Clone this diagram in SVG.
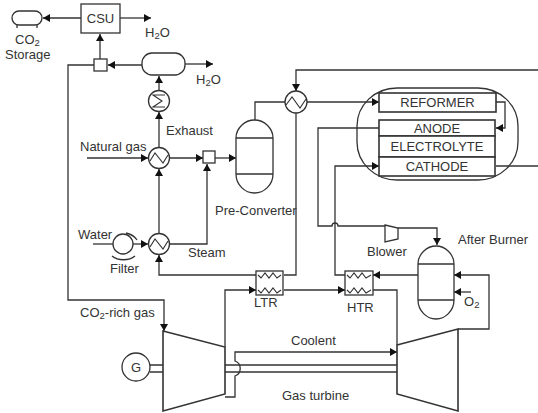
<svg xmlns="http://www.w3.org/2000/svg" width="538" height="413" viewBox="0 0 538 413">
<style>
text{font-family:"Liberation Sans",Arial,sans-serif;font-size:13px;fill:#333}
.b{font-size:9.500px}
.l{fill:none;stroke:#333;stroke-width:1.300}
.s{fill:#fff;stroke:#333;stroke-width:1.300}
.t{fill:#fff;stroke:#333;stroke-width:1.600}
.z{fill:none;stroke:#333;stroke-width:1.100}
</style>
<defs>
<marker id="a" markerUnits="userSpaceOnUse" markerWidth="8" markerHeight="8" refX="7" refY="4" orient="auto"><path d="M0 0L7 4L0 8Z" fill="#111"/></marker>
</defs>
<g id="connectors" class="l">
<path class="l" marker-end="url(#a)" d="M81 18H43"/>
<path class="l" marker-end="url(#a)" d="M120 18H151"/>
<path class="l" marker-end="url(#a)" d="M100 59V34"/>
<path class="l" marker-end="url(#a)" d="M142 65H108"/>
<path class="l" marker-end="url(#a)" d="M185 64H213"/>
<path class="l" marker-end="url(#a)" d="M159 91V76"/>
<path class="l" marker-end="url(#a)" d="M159 147V112"/>
<path class="l" marker-end="url(#a)" d="M159 233V169"/>
<path class="l" marker-end="url(#a)" d="M94 65H68V300H164V331"/>
<path class="l" marker-end="url(#a)" d="M87 158H148"/>
<path class="l" marker-end="url(#a)" d="M170 158H203"/>
<path class="l" marker-end="url(#a)" d="M215 158H236"/>
<path class="l" marker-end="url(#a)" d="M170 244H207V164"/>
<path class="l" d="M93 244H113"/>
<path class="l" marker-end="url(#a)" d="M133 244H148"/>
<path class="l" marker-end="url(#a)" d="M256 275H159V255"/>
<path class="l" d="M255 120V102H285"/>
<path class="l" marker-end="url(#a)" d="M307 102H379"/>
<path class="l" marker-end="url(#a)" d="M538 70H296V91"/>
<path class="l" d="M296 113V275H284"/>
<path class="l" marker-end="url(#a)" d="M496 102H505V128H496"/>
<path class="l" d="M379 128H318V226H332A3 3 0 0 1 338 226H385"/>
<path class="l" marker-end="url(#a)" d="M345 275H335V166H379"/>
<path class="l" d="M496 166H538"/>
<path class="l" marker-end="url(#a)" d="M398 228H437V245"/>
<path class="l" marker-end="url(#a)" d="M418 275H373"/>
<path class="l" marker-end="url(#a)" d="M458 329H489V275H454"/>
<path class="l" marker-end="url(#a)" d="M471 292H454"/>
<path class="l" marker-end="url(#a)" d="M225 347V290H256"/>
<path class="l" marker-end="url(#a)" d="M284 290H345"/>
<path class="l" d="M373 290H397V345"/>
<path class="l" marker-end="url(#a)" d="M225 397H235V376A8 8 0 0 0 235 361V352H397"/>
<path class="t" style="fill:none" d="M150 365H163M150 372H163M225 365H397M225 372H397"/>
</g>
<g id="storage"><rect class="s" x="12" y="11" width="30" height="14" rx="7"/><path class="l" d="M17 25V28M37 25V28"/><text x="15" y="44">CO<tspan class="b" dy="2">2</tspan></text><text x="5" y="59">Storage</text></g>
<g id="csu"><rect class="s" x="81" y="4" width="39" height="29"/><text x="100.500" y="23" text-anchor="middle">CSU</text></g>
<text x="145" y="37">H<tspan class="b" dy="2">2</tspan><tspan dy="-2">O</tspan></text>
<g id="mixer1"><rect class="s" x="94" y="59" width="13" height="12"/></g>
<g id="separator"><rect class="s" x="142" y="53" width="43" height="22" rx="10"/></g>
<text x="196" y="84">H<tspan class="b" dy="2">2</tspan><tspan dy="-2">O</tspan></text>
<g id="cooler"><circle class="s" cx="159" cy="101" r="10.500"/><path class="z" d="M165 95H153L162 101L153 107H165"/></g>
<text x="166" y="135">Exhaust</text>
<g id="hx-natural-gas"><circle class="s" cx="159" cy="158" r="10.500"/><path class="z" d="M150 161L155 153L163 163L168 155"/></g>
<text x="80" y="151">Natural gas</text>
<g id="mixer2"><rect class="s" x="203" y="151" width="12" height="12"/></g>
<g id="pre-converter"><path class="s" d="M236 138C236 128 245 120 254.500 120C264 120 273 128 273 138V174C273 185 264 193 254.500 193C245 193 236 185 236 174Z"/><path class="l" d="M236 138H273M236 174H273"/><text x="215" y="215">Pre-Converter</text></g>
<g id="hx-water"><circle class="s" cx="159" cy="244" r="10.500"/><path class="z" d="M150 247L155 239L163 249L168 241"/></g>
<g id="filter"><circle class="s" cx="123" cy="244" r="10"/><path class="l" d="M126 233C131 234 135 237 137 240M112 256C118 261 129 261 135 256"/><text x="78" y="239">Water</text><text x="110" y="273">Filter</text></g>
<text x="188" y="257">Steam</text>
<g id="hx-fuel"><circle class="s" cx="296" cy="102" r="11"/><path class="z" d="M286 105L292 97L300 108L306 99"/></g>
<g id="fuel-cell"><rect class="l" x="357" y="88" width="161" height="92" rx="40" ry="38"/>
<rect class="t" x="379" y="93" width="117" height="19"/><text x="437.500" y="107" text-anchor="middle">REFORMER</text>
<rect class="t" x="379" y="120" width="116" height="16"/><text x="437" y="132.500" text-anchor="middle">ANODE</text>
<rect class="t" x="379" y="136" width="116" height="21"/><text x="437" y="151" text-anchor="middle">ELECTROLYTE</text>
<rect class="t" x="379" y="157" width="116" height="19"/><text x="437" y="171" text-anchor="middle">CATHODE</text></g>
<g id="ltr"><rect class="s" x="256" y="271" width="27" height="24"/><path class="z" d="M258 275L261 278L265 273L269 278L273 273L277 278L281 275M258 290L261 293L265 288L269 293L273 288L277 293L281 290"/><text x="254" y="307">LTR</text></g>
<g id="htr"><rect class="s" x="345" y="271" width="28" height="24"/><path class="z" d="M347 275L350 278L354 273L358 278L362 273L366 278L371 275M347 290L350 293L354 288L358 293L362 288L366 293L371 290"/><text x="347" y="312">HTR</text></g>
<g id="blower"><path class="s" d="M385 225L398 228V239L385 242Z"/><text x="367" y="256">Blower</text></g>
<g id="after-burner"><path class="s" d="M418 264C418 254 427 246 436 246C445 246 454 254 454 264V300C454 311 445 319 436 319C427 319 418 311 418 300Z"/><path class="l" d="M418 264H454M418 300H454"/><text x="458" y="244">After Burner</text></g>
<text x="464" y="306">O<tspan class="b" dy="2">2</tspan></text>
<text x="80" y="317">CO<tspan class="b" dy="2">2</tspan><tspan dy="-2">-rich gas</tspan></text>
<g id="generator"><circle class="s" cx="136" cy="367" r="14"/><text x="136" y="372" text-anchor="middle">G</text></g>
<g id="compressor"><path class="t" style="fill:none" d="M163 331L225 347V394L163 411Z"/></g>
<g id="turbine"><path class="t" style="fill:none" d="M397 345L458 329V411L397 394Z"/></g>
<text x="291" y="345">Coolent</text>
<text x="282" y="400">Gas turbine</text>
</svg>
